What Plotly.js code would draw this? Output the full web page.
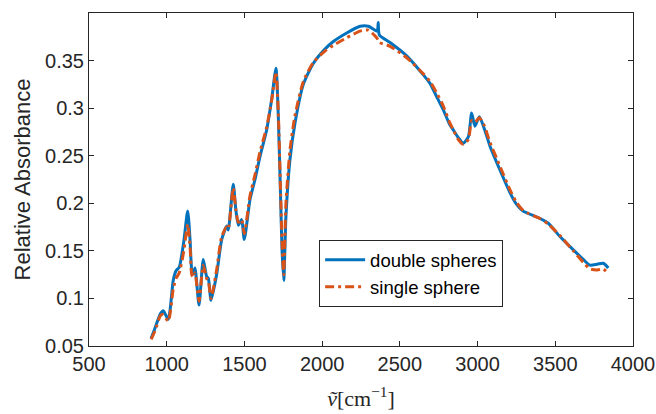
<!DOCTYPE html>
<html>
<head>
<meta charset="utf-8">
<script src="https://cdn.plot.ly/plotly-3.0.1.min.js"></script>
<style>html,body{margin:0;padding:0;background:#fff;}#chart{width:656px;height:414px;}</style>
</head>
<body>
<div id="chart"></div>
<script>
const wavenumber = [900, 925, 960, 978, 1010, 1042, 1060, 1081, 1110, 1135, 1150, 1161, 1171, 1182, 1208, 1235, 1257, 1268, 1285, 1321, 1354, 1386, 1396, 1428, 1445, 1461, 1482, 1499, 1536, 1568, 1600, 1643, 1675, 1703, 1718, 1733, 1742, 1753, 1767, 1793, 1825, 1879, 1943, 2018, 2072, 2158, 2244, 2297, 2340, 2355, 2361, 2368, 2437, 2544, 2651, 2694, 2737, 2780, 2820, 2844, 2876, 2908, 2941, 2962, 2983, 3011, 3040, 3080, 3144, 3209, 3250, 3290, 3330, 3402, 3455, 3530, 3616, 3680, 3723, 3770, 3809, 3841];
const doubleSpheres = [0.058, 0.069, 0.084, 0.087, 0.078, 0.119, 0.129, 0.133, 0.160, 0.192, 0.162, 0.130, 0.126, 0.132, 0.093, 0.141, 0.123, 0.121, 0.098, 0.125, 0.162, 0.176, 0.172, 0.220, 0.193, 0.177, 0.183, 0.162, 0.204, 0.225, 0.249, 0.277, 0.309, 0.342, 0.291, 0.204, 0.151, 0.119, 0.186, 0.246, 0.284, 0.325, 0.347, 0.362, 0.370, 0.379, 0.386, 0.386, 0.382, 0.381, 0.390, 0.377, 0.369, 0.355, 0.335, 0.326, 0.312, 0.298, 0.283, 0.277, 0.269, 0.263, 0.270, 0.295, 0.281, 0.291, 0.280, 0.260, 0.235, 0.211, 0.199, 0.192, 0.189, 0.184, 0.179, 0.165, 0.151, 0.141, 0.135, 0.136, 0.137, 0.132];
const singleSphere = [0.057, 0.066, 0.082, 0.083, 0.076, 0.110, 0.121, 0.127, 0.150, 0.178, 0.155, 0.125, 0.122, 0.127, 0.097, 0.135, 0.121, 0.118, 0.100, 0.130, 0.165, 0.175, 0.173, 0.216, 0.193, 0.180, 0.183, 0.168, 0.208, 0.230, 0.254, 0.280, 0.308, 0.338, 0.295, 0.210, 0.160, 0.125, 0.200, 0.256, 0.292, 0.328, 0.348, 0.360, 0.366, 0.374, 0.381, 0.382, 0.376, 0.373, 0.371, 0.369, 0.365, 0.353, 0.336, 0.328, 0.316, 0.302, 0.285, 0.277, 0.267, 0.262, 0.267, 0.287, 0.285, 0.290, 0.283, 0.264, 0.239, 0.214, 0.201, 0.193, 0.189, 0.184, 0.178, 0.166, 0.150, 0.138, 0.131, 0.130, 0.131, 0.126];
const seriesNames = ["double spheres", "single sphere"];
const xTicks = [500, 1000, 1500, 2000, 2500, 3000, 3500, 4000];
const yTickVals = [0.05, 0.1, 0.15, 0.2, 0.25, 0.3, 0.35];
const yTickText = ["0.05", "0.1", "0.15", "0.2", "0.25", "0.3", "0.35"];

const axisColor = "#262626";
const font = "Liberation Sans, Arial, Helvetica, sans-serif";

const traces = [
  {x: wavenumber, y: doubleSpheres, name: seriesNames[0], type: "scatter", mode: "lines",
   line: {color: "#0072BD", width: 3, shape: "spline", smoothing: 0.6}},
  {x: wavenumber, y: singleSphere, name: seriesNames[1], type: "scatter", mode: "lines",
   line: {color: "#D95319", width: 3, dash: "9px,4px,3px,4px", shape: "spline", smoothing: 0.6}}
];

const layout = {
  width: 656, height: 414,
  margin: {l: 89, r: 23, t: 13, b: 68},
  paper_bgcolor: "#ffffff", plot_bgcolor: "#ffffff",
  font: {family: font, color: axisColor, size: 20},
  showlegend: true,
  legend: {x: 0.423, y: 0.318, xanchor: "left", yanchor: "top",
           bgcolor: "#ffffff", bordercolor: axisColor, borderwidth: 1,
           font: {size: 18.5, color: "#000000", family: font}, tracegroupgap: 0, itemwidth: 40},
  xaxis: {range: [500, 4000], tickvals: xTicks, ticks: "inside", ticklen: 5, tickcolor: axisColor,
          showline: true, linecolor: axisColor, linewidth: 1, mirror: "ticks", showgrid: false, zeroline: false,
          tickfont: {size: 20, color: axisColor},
          title: {text: "<i>ṽ</i>[cm<sup>−1</sup>]", font: {family: "Liberation Serif, DejaVu Serif, serif", size: 22, color: axisColor}, standoff: 16}},
  yaxis: {range: [0.05, 0.4], tickvals: yTickVals, ticktext: yTickText, ticks: "inside", ticklen: 5, tickcolor: axisColor,
          showline: true, linecolor: axisColor, linewidth: 1, mirror: "ticks", showgrid: false, zeroline: false,
          tickfont: {size: 20, color: axisColor},
          title: {text: "Relative Absorbance", font: {size: 22, color: axisColor}, standoff: 8}}
};

Plotly.newPlot("chart", traces, layout, {displayModeBar: false, staticPlot: true});
</script>
</body>
</html>
